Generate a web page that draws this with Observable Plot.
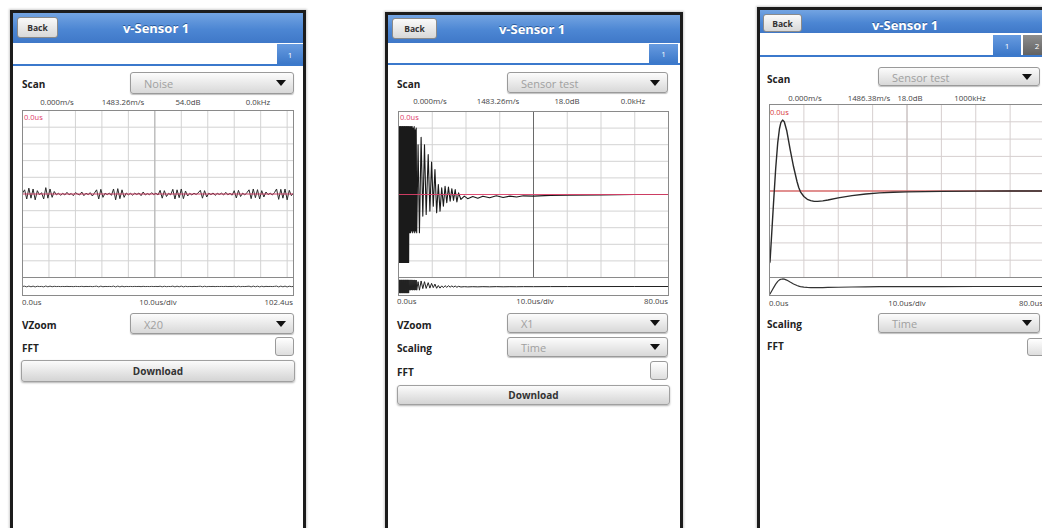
<!DOCTYPE html>
<html><head><meta charset="utf-8">
<script src="https://cdn.jsdelivr.net/npm/d3@7"></script>
<script src="https://cdn.jsdelivr.net/npm/@observablehq/plot@0.6"></script>
<style>
html,body{margin:0;padding:0;background:#fff;width:1042px;height:528px;overflow:hidden;font-family:"Open Sans","Noto Sans",sans-serif;}
#root{position:relative;width:1042px;height:528px;overflow:hidden;}
.abs{position:absolute;box-sizing:border-box;}
.frame{border:3px solid #1c1c1c;background:#fff;box-shadow:0 0 2px 1px #cfcfcf;}
.header{background:linear-gradient(#73a4e2,#4c86d3 55%,#3f78c8);}
.title{color:#fff;font-weight:700;font-size:13px;text-shadow:0 -1px 0 #2a5a9a;white-space:nowrap;transform:translate(-50%,-50%);}
.back{background:linear-gradient(#fafafa,#d8d8d8);border:1px solid #8a8a8a;border-radius:3px;font-size:8.5px;font-weight:700;color:#333;display:flex;align-items:center;justify-content:center;}
.tabline{background:#3b79cc;}
.tab{background:linear-gradient(#679be0,#3c78c9);color:#fff;font-size:8px;display:flex;align-items:center;justify-content:center;}
.tab2{background:linear-gradient(#8e8e8e,#626262);}
.lbl{font-weight:700;font-size:10px;color:#222;white-space:nowrap;}
.dd{background:linear-gradient(#fcfcfc,#d8d8d8);border:1px solid #9a9a9a;border-radius:3px;box-shadow:0 1px 1px rgba(0,0,0,.25);}
.ddtext{position:absolute;left:13px;top:50%;transform:translateY(-50%);font-size:11px;color:#a0a0a0;white-space:nowrap;}
.arrow{position:absolute;right:7px;top:50%;margin-top:-3px;width:0;height:0;border-left:5px solid transparent;border-right:5px solid transparent;border-top:6px solid #111;}
.cb{background:linear-gradient(#fff,#dedede);border:1px solid #9a9a9a;border-radius:3px;}
.btn{background:linear-gradient(#fbfbfb,#d4d4d4);border:1px solid #a0a0a0;border-radius:3px;box-shadow:0 1px 2px rgba(0,0,0,.3);font-weight:700;font-size:10px;color:#333;display:flex;align-items:center;justify-content:center;}
.small{font-size:7.8px;color:#444;white-space:nowrap;}
.red{font-size:7.5px;color:#e0406a;white-space:nowrap;}
.red3{font-size:7.5px;color:#d83a3a;white-space:nowrap;}
.plotbox svg{display:block;}
</style>
</head><body><div id="root"></div>
<script>
// ---------- data ----------
const gridY = [-5,-4,-3,-2,-1,0,1,2,3,4,5];
const gridX1 = [0,10,20,30,40,50,60,70,80,90,100];
const gridX2 = [0,10,20,30,40,50,60,70,80];

// Screen 1: "Noise" scan, 0..102.4 us, one sample every 0.8 us (divisions)
const noiseStep = 0.8;
const noiseValues = [
 0.05,0.25,-0.3,0.35,-0.25,0.3,-0.35,0.2,-0.05,0.08,
 -0.3,0.38,-0.25,0.3,-0.2,0.15,-0.05,0.05,-0.08,0.04,
 -0.06,0.1,-0.05,0.03,-0.1,0.08,0.0,-0.06,0.12,-0.1,
 0.05,-0.04,0.08,-0.12,0.06,0.25,-0.3,0.28,-0.2,0.05,
 -0.04,0.06,-0.08,0.3,-0.35,0.32,-0.28,0.25,-0.2,0.06,
 -0.05,0.04,-0.07,0.05,-0.03,0.06,-0.1,0.12,-0.06,0.03,
 -0.05,0.08,-0.04,0.05,-0.06,0.22,-0.25,0.2,-0.15,0.04,
 -0.05,0.28,-0.3,0.25,-0.22,0.3,-0.28,0.18,-0.12,0.04,
 -0.06,0.05,-0.03,0.07,0.22,-0.25,0.2,-0.18,0.05,-0.04,
 0.06,-0.08,0.04,-0.03,0.05,-0.06,0.1,-0.05,0.04,-0.07,
 0.2,-0.24,0.22,-0.15,0.05,-0.06,0.08,0.25,-0.28,0.3,
 -0.22,0.26,-0.3,0.2,-0.18,0.12,-0.04,0.05,-0.06,0.08,
 0.3,-0.32,0.28,-0.25,0.3,-0.35,0.22,-0.1,0.05
];

// Screen 2: "Sensor test", 0..80 us (divisions)
const sensorTimes = [
 0,0.1,0.2,0.3,0.4,0.5,0.6,0.7,0.8,0.9,1.0,1.1,1.2,1.3,1.4,1.5,1.6,1.7,1.8,1.9,
 2.0,2.1,2.2,2.3,2.4,2.5,2.6,2.7,2.8,2.9,3.0,
 3.15,3.3,3.45,3.6,3.75,3.9,4.05,4.2,4.35,4.5,4.65,4.8,4.95,5.1,5.25,5.4,
 5.8,6.2,6.7,7.2,7.7,8.2,8.8,9.3,9.8,
 10.3,10.8,11.3,11.8,12.3,12.8,13.3,13.8,14.3,14.8,15.3,15.8,16.3,16.8,17.3,17.8,
 18.5,19.5,20.5,22,23.5,25,27,29,31,33,35,37,40,45,50,60,70,80
];
const sensorValues = [
 -4.1,4.1,-4.1,4.1,-4.1,4.1,-4.1,4.1,-4.1,4.1,-4.1,4.1,-4.1,4.1,-4.1,4.1,-4.1,4.1,-4.1,4.1,
 -4.1,4.1,-4.1,4.1,-4.1,4.1,-4.1,4.1,-4.1,4.1,-4.1,
 4.1,-2.3,4.1,-2.3,4.1,-2.2,4.1,-2.3,4.0,-2.2,4.1,-2.3,3.9,-2.2,4.0,-2.3,
 3.0,-2.3,3.45,-1.3,3.0,-1.2,2.4,-1.0,1.95,
 -0.7,1.5,-1.1,0.6,-1.0,0.4,-0.7,0.5,-0.5,0.45,-0.4,0.35,-0.35,0.3,-0.45,0.1,
 -0.3,-0.1,-0.25,-0.12,-0.22,-0.1,-0.2,-0.08,-0.18,-0.1,-0.15,-0.08,-0.1,-0.05,-0.04,-0.02,0,0
];

// Screen 3: "Sensor test" (time scaling), 0..80 us (divisions)
const stepTimes = [0,0.15,0.6,1.2,1.8,2.4,2.9,3.3,3.8,4.3,5,6,7,8,8.5,9,10,11,12,13,14,15.5,17,20,24,28,32,36,40,50,60,70,80];
const stepValues = [-4.15,-4.1,-2.6,-0.6,1.3,2.8,3.6,3.95,4.1,4.0,3.5,2.4,1.4,0.55,0.2,-0.05,-0.32,-0.48,-0.56,-0.6,-0.6,-0.57,-0.52,-0.4,-0.27,-0.17,-0.11,-0.07,-0.05,-0.02,-0.01,0,0];

// labels
const screenTitle = "v-Sensor 1";
const topLabels1 = ["0.000m/s","1483.26m/s","54.0dB","0.0kHz"];
const topLabels2 = ["0.000m/s","1483.26m/s","18.0dB","0.0kHz"];
const topLabels3 = ["0.000m/s","1486.38m/s","18.0dB","1000kHz"];
const bottomLabels1 = ["0.0us","10.0us/div","102.4us"];
const bottomLabels2 = ["0.0us","10.0us/div","80.0us"];
const bottomLabels3 = ["0.0us","10.0us/div","80.0us"];
const markerLabel = "0.0us";

// ---------- helpers ----------
const root = document.getElementById("root");
function box(cls, l, t, w, h, text) {
  const d = document.createElement("div");
  d.className = "abs " + cls;
  d.style.left = l + "px"; d.style.top = t + "px";
  if (w != null) d.style.width = w + "px";
  if (h != null) d.style.height = h + "px";
  if (text != null) d.textContent = text;
  root.appendChild(d);
  return d;
}
function txt(cls, text, x, y, align) {
  const d = box(cls, x, y, null, null, text);
  d.style.transform = align === "c" ? "translate(-50%,-50%)" : align === "r" ? "translate(-100%,-50%)" : "translateY(-50%)";
  return d;
}
function dropdown(l, t, w, h, text) {
  const d = box("dd", l, t, w, h);
  const s = document.createElement("div"); s.className = "ddtext"; s.textContent = text; d.appendChild(s);
  const a = document.createElement("div"); a.className = "arrow"; d.appendChild(a);
}
function rows(ts, vs) { return ts.map((t, i) => ({t, v: vs[i]})); }

function scope(l, t, w, h, T, gx, centerX, data, o) {
  const chart = Plot.plot({
    width: w + 2, height: h + 2,
    marginTop: 1, marginBottom: 1, marginLeft: 1, marginRight: 1,
    x: {domain: [0, T], axis: null},
    y: {domain: o.yDomain, axis: null},
    style: {background: "transparent", overflow: "visible"},
    marks: [
      o.grid ? Plot.ruleX(gx, {stroke: o.gridColor, strokeWidth: 1}) : null,
      o.grid ? Plot.ruleY(gridY, {stroke: o.gridColor, strokeWidth: 1}) : null,
      o.grid ? Plot.ruleX([centerX], {stroke: o.centerColor, strokeWidth: 1}) : null,
      o.redUnder ? Plot.ruleY([0], {stroke: o.red, strokeWidth: 1.2}) : null,
      Plot.line(data, {x: "t", y: "v", stroke: o.trace, strokeWidth: o.traceWidth, clip: true}),
      o.redOver ? Plot.ruleY([0], {stroke: o.red, strokeWidth: 1.2, strokeOpacity: 0.9}) : null,
      Plot.frame({stroke: "#8a8a8a"})
    ]
  });
  const holder = box("plotbox", l - 1, t - 1, w + 2, h + 2);
  holder.appendChild(chart);
}

// ---------- phone 1 ----------
const noiseRows = noiseValues.map((v, i) => ({t: i * noiseStep, v}));
box("frame", 10, 10, 296, 540);
box("header", 13, 13, 290, 30);
box("back", 17, 17, 41, 21, "Back");
txt("title", screenTitle, 156, 28, "c");
box("tabline", 13, 64, 290, 2);
box("tab", 277, 44, 26, 20, "1");
txt("lbl", "Scan", 22, 84, "l");
dropdown(130, 72, 164, 22, "Noise");
[57, 123, 188, 258].forEach((x, i) => txt("small", topLabels1[i], x, 102, "c"));
scope(22, 110, 271, 167, 102.4, gridX1, 50, noiseRows,
  {grid: true, yDomain: [-5, 5], gridColor: "#d3d3d3", centerColor: "#b0b0b0", red: "#e0406a", redOver: true, trace: "#2a2a2a", traceWidth: 1});
scope(22, 277, 271, 18, 102.4, gridX1, 50, noiseRows,
  {grid: false, yDomain: [-7, 7], trace: "#444", traceWidth: 1});
txt("red", markerLabel, 24, 117, "l");
txt("small", bottomLabels1[0], 22, 302, "l");
txt("small", bottomLabels1[1], 158, 302, "c");
txt("small", bottomLabels1[2], 293, 302, "r");
txt("lbl", "VZoom", 22, 325, "l");
dropdown(130, 313, 164, 21, "X20");
txt("lbl", "FFT", 22, 348, "l");
box("cb", 275, 337, 19, 19);
box("btn", 21, 360, 274, 22, "Download");

// ---------- phone 2 ----------
const sensorRows = rows(sensorTimes, sensorValues);
box("frame", 385, 12, 298, 540);
box("header", 388, 15, 292, 28);
box("back", 392, 18, 45, 21, "Back");
txt("title", screenTitle, 532, 29, "c");
box("tabline", 388, 63, 292, 2);
box("tab", 649, 44, 29, 19, "1");
txt("lbl", "Scan", 397, 84, "l");
dropdown(507, 72, 161, 21, "Sensor test");
[430, 498, 567, 633].forEach((x, i) => txt("small", topLabels2[i], x, 101, "c"));
scope(398, 111, 270, 166, 80, gridX2, 40, sensorRows,
  {grid: true, yDomain: [-5, 5], gridColor: "#d3d3d3", centerColor: "#6a6a6a", red: "#e0406a", redOver: true, trace: "#1a1a1a", traceWidth: 1.1});
scope(398, 277, 270, 18, 80, gridX2, 40, sensorRows,
  {grid: false, yDomain: [-5.6, 5.6], trace: "#222", traceWidth: 1});
txt("red", markerLabel, 400, 117, "l");
txt("small", bottomLabels2[0], 397, 301, "l");
txt("small", bottomLabels2[1], 535, 301, "c");
txt("small", bottomLabels2[2], 668, 301, "r");
txt("lbl", "VZoom", 397, 325, "l");
dropdown(507, 313, 161, 20, "X1");
txt("lbl", "Scaling", 397, 348, "l");
dropdown(507, 337, 161, 20, "Time");
txt("lbl", "FFT", 397, 372, "l");
box("cb", 650, 361, 18, 19);
box("btn", 397, 385, 273, 20, "Download");

// ---------- phone 3 ----------
const stepRows = rows(stepTimes, stepValues);
box("frame", 757, 7, 320, 540);
box("header", 760, 10, 300, 23);
box("back", 763, 14, 39, 18, "Back");
txt("title", screenTitle, 905, 25, "c");
box("tabline", 760, 55, 300, 2);
box("tab", 993, 35, 28, 20, "1");
box("tab tab2", 1023, 35, 28, 20, "2");
txt("lbl", "Scan", 767, 79, "l");
dropdown(878, 67, 162, 19, "Sensor test");
[805, 869, 910, 970].forEach((x, i) => txt("small", topLabels3[i], x, 98, "c"));
scope(769, 104, 275, 173, 80, gridX2, 40, stepRows,
  {grid: true, yDomain: [-5, 5], gridColor: "#d6cfcf", centerColor: "#c4bcbc", red: "#d83a3a", redUnder: true, trace: "#2a2a2a", traceWidth: 1.4});
scope(769, 277, 275, 18, 80, gridX2, 40, stepRows,
  {grid: false, yDomain: [-4.9, 4.9], trace: "#333", traceWidth: 1.2});
txt("red3", markerLabel, 770, 112, "l");
txt("small", bottomLabels3[0], 769, 303, "l");
txt("small", bottomLabels3[1], 907, 303, "c");
txt("small", bottomLabels3[2], 1043, 303, "r");
txt("lbl", "Scaling", 767, 324, "l");
dropdown(878, 313, 162, 20, "Time");
txt("lbl", "FFT", 767, 346, "l");
box("cb", 1027, 338, 20, 18);
</script>
</body></html>
